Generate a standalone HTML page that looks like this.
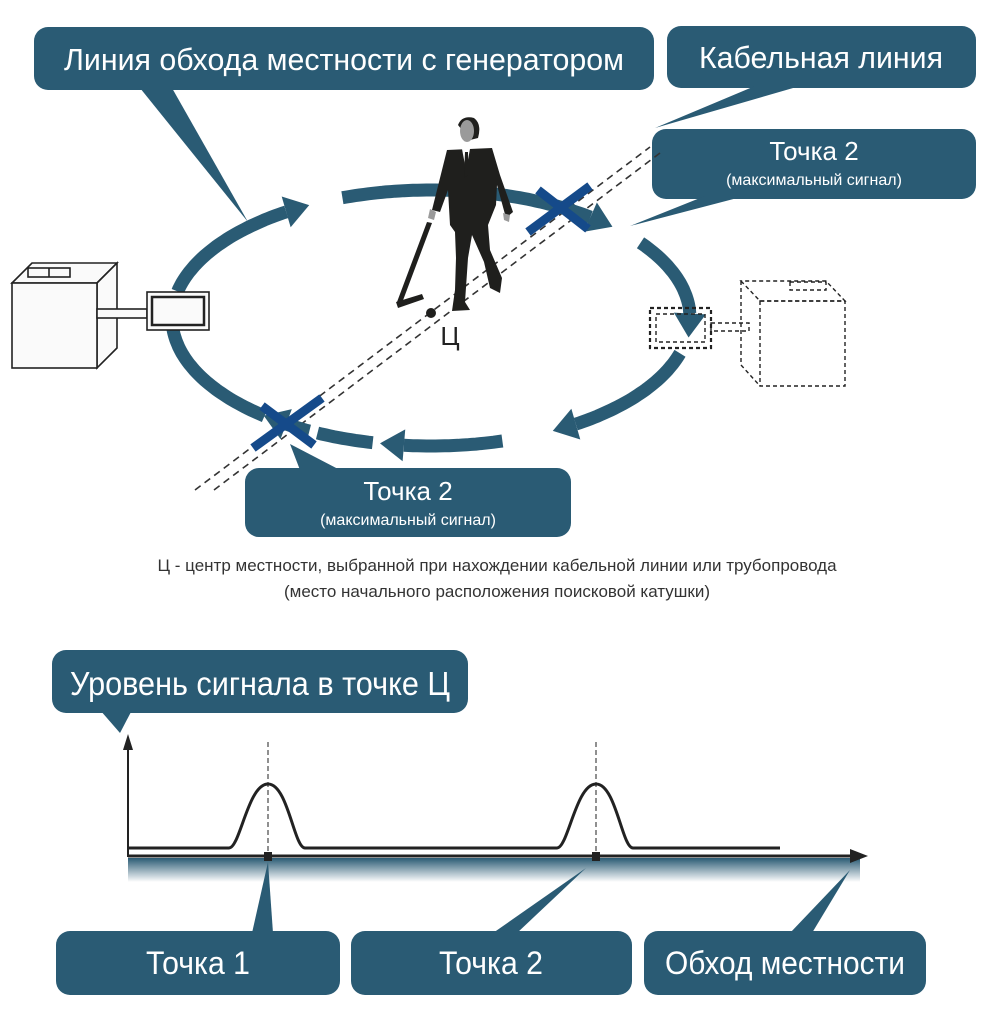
<!DOCTYPE html>
<html><head><meta charset="utf-8"><style>
html,body{margin:0;padding:0;background:#fff;width:994px;height:1024px;overflow:hidden}
svg{display:block}
text{font-family:"Liberation Sans",sans-serif}
</style></head><body>
<svg width="994" height="1024" viewBox="0 0 994 1024" xmlns="http://www.w3.org/2000/svg">
<defs>
<linearGradient id="sh" x1="0" y1="0" x2="0" y2="1">
<stop offset="0" stop-color="#2a5b74"/><stop offset="1" stop-color="#2a5b74" stop-opacity="0"/>
</linearGradient>
</defs>
<g fill="#2a5b74">
<rect x="34" y="27" width="620" height="63" rx="14"/>
<polygon points="140,88 172,88 248,222"/>
<rect x="667" y="26" width="309" height="62" rx="14"/>
<polygon points="755,86 800,86 655,128"/>
<rect x="652" y="129" width="324" height="70" rx="14"/>
<polygon points="705,196 745,196 630,226"/>
<rect x="245" y="468" width="326" height="69" rx="14"/>
<polygon points="300,470 340,470 290,444"/>
<rect x="52" y="650" width="416" height="63" rx="14"/>
<polygon points="100,710 132,710 120,733"/>
<rect x="56" y="931" width="284" height="64" rx="14"/>
<polygon points="252,933 273,933 268,862"/>
<rect x="351" y="931" width="281" height="64" rx="14"/>
<polygon points="493,933 517,933 586,868"/>
<rect x="644" y="931" width="282" height="64" rx="14"/>
<polygon points="790,933 812,933 850,870"/>
</g>
<g fill="#fff" text-anchor="middle">
<text x="344" y="70" font-size="31" textLength="560" lengthAdjust="spacingAndGlyphs">Линия обхода местности с генератором</text>
<text x="821" y="68" font-size="31" textLength="244" lengthAdjust="spacingAndGlyphs">Кабельная линия</text>
<text x="814" y="160" font-size="26">Точка 2</text>
<text x="814" y="185" font-size="16">(максимальный сигнал)</text>
<text x="408" y="500" font-size="26">Точка 2</text>
<text x="408" y="525" font-size="16">(максимальный сигнал)</text>
<text x="260" y="695" font-size="33" textLength="380" lengthAdjust="spacingAndGlyphs">Уровень сигнала в точке Ц</text>
<text x="198" y="974" font-size="32" textLength="104" lengthAdjust="spacingAndGlyphs">Точка 1</text>
<text x="491" y="974" font-size="32" textLength="104" lengthAdjust="spacingAndGlyphs">Точка 2</text>
<text x="785" y="974" font-size="32" textLength="240" lengthAdjust="spacingAndGlyphs">Обход местности</text>
</g>
<g fill="#333" text-anchor="middle" font-size="17">
<text x="497" y="571">Ц - центр местности, выбранной при нахождении кабельной линии или трубопровода</text>
<text x="497" y="597">(место начального расположения поисковой катушки)</text>
</g>

<g stroke="#333" stroke-width="1.6" stroke-dasharray="7,5" fill="none">
<line x1="195" y1="490" x2="650" y2="147"/>
<line x1="214" y1="490" x2="660" y2="153"/>
</g>

<g id="ring" fill="none" stroke="#2a5b74" stroke-width="13"></g>
<g id="heads" fill="#2a5b74"></g>

<g stroke="#222" stroke-width="1.6" fill="#fafafa">
<polygon points="12,283 32,263 117,263 97,283"/>
<polygon points="97,283 117,263 117,348 97,368"/>
<rect x="12" y="283" width="85" height="85"/>
<rect x="28" y="268" width="42" height="9" fill="none"/>
<line x1="49" y1="268" x2="49" y2="277"/>
<rect x="97" y="309" width="50" height="9"/>
<rect x="147" y="292" width="62" height="38"/>
<rect x="152" y="297" width="52" height="28" stroke-width="2.5"/>
</g>
<g stroke="#222" stroke-width="1.4" fill="none" stroke-dasharray="4,3">
<polygon points="741,281 760,301 845,301 826,281"/>
<rect x="760" y="301" width="85" height="85"/>
<line x1="741" y1="281" x2="741" y2="365"/><line x1="741" y1="365" x2="760" y2="386"/>
<rect x="790" y="282" width="36" height="8"/>
<rect x="650" y="308" width="61" height="40" stroke-width="2.2"/>
<rect x="656" y="314" width="49" height="28"/>
<rect x="711" y="323" width="38" height="8"/>
</g>

<g fill="#1f1f1d">
<path d="M458,125 Q462,115 474,118 Q482,124 478,138 L470,140 Z"/>
<polygon points="447,150 492,148 500,175 513,212 506,218 497,185 496,205 488,225 490,250 502,278 500,293 490,288 484,262 472,235 468,258 465,302 470,310 452,311 455,290 456,258 455,232 450,225 448,190 440,212 432,210"/>
<polygon points="427,222 432,223 402,303 397,302"/>
<polygon points="396,302 422,294 424,299 398,308"/>
<circle cx="431" cy="313" r="5"/>
</g>
<g fill="#9a9a9a">
<ellipse cx="467" cy="131" rx="7" ry="11"/>
<polygon points="430,209 436,212 434,220 428,218"/>
<polygon points="503,213 510,215 509,222 504,220"/>
</g>
<polygon points="462,149 470,149 466,170" fill="#fff"/>
<polygon points="465,152 468,152 468,175 464,178" fill="#1f1f1d"/>
<text x="450" y="345" font-size="26" fill="#222" text-anchor="middle">Ц</text>

<g stroke="#154a8a" stroke-width="9">
<line x1="528" y1="232" x2="590" y2="186"/>
<line x1="538" y1="190" x2="588" y2="229"/>
<line x1="253" y1="448" x2="322" y2="398"/>
<line x1="262" y1="406" x2="314" y2="445"/>
</g>

<rect x="128" y="858" width="732" height="24" fill="url(#sh)"/>
<g stroke="#222" fill="none">
<line x1="128" y1="740" x2="128" y2="857" stroke-width="2"/>
<line x1="128" y1="856" x2="855" y2="856" stroke-width="3"/>
<path d="M128,848 H229 C240,848 248,784 268,784 C288,784 294,848 305,848 H557 C568,848 576,784 596,784 C616,784 622,848 633,848 H780" stroke-width="3"/>
<line x1="268" y1="742" x2="268" y2="852" stroke-width="1" stroke-dasharray="5,3"/>
<line x1="596" y1="742" x2="596" y2="852" stroke-width="1" stroke-dasharray="5,3"/>
</g>
<polygon points="128,734 123,750 133,750" fill="#222"/>
<polygon points="868,856 850,849 850,863" fill="#222"/>
<rect x="264" y="852" width="8" height="9" fill="#222"/>
<rect x="592" y="852" width="8" height="9" fill="#222"/>

<script>
(function(){
var cx=431,cy=318,rx=259,ry=128,R=Math.PI/180;
function P(t){return [cx+rx*Math.cos(t*R),cy+ry*Math.sin(t*R)];}
var ring=document.getElementById('ring'),heads=document.getElementById('heads');
var segs=[[130,176,true],[192,236,true],[250,308,true],[324,358,true],[16,56,true],[74,96,true],[103,116,false],[118,124,true]];
segs.forEach(function(s){
 var d='';for(var t=s[0];t<=s[1]+0.01;t+=1){var p=P(t);d+=(d?'L':'M')+p[0].toFixed(1)+','+p[1].toFixed(1);}
 var e=document.createElementNS('http://www.w3.org/2000/svg','path');e.setAttribute('d',d);ring.appendChild(e);
 if(s[2]){var a=P(s[1]),b=P(s[1]+7);var dx=b[0]-a[0],dy=b[1]-a[1],L=Math.hypot(dx,dy);dx/=L;dy/=L;
  var tip=[a[0]+dx*24,a[1]+dy*24],nx=-dy,ny=dx;
  var h=document.createElementNS('http://www.w3.org/2000/svg','polygon');
  h.setAttribute('points',tip.join(',')+' '+(a[0]+nx*16)+','+(a[1]+ny*16)+' '+(a[0]-nx*16)+','+(a[1]-ny*16));heads.appendChild(h);}
});
})();
</script>
</svg>
</body></html>
